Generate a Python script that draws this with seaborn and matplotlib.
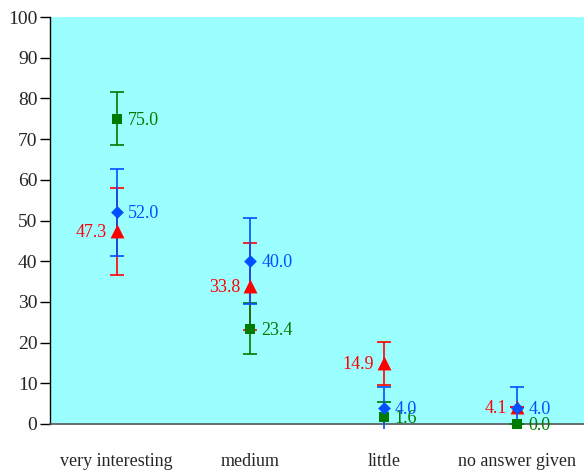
import matplotlib
matplotlib.use("Agg")
import matplotlib.pyplot as plt
import seaborn as sns
import pandas as pd
import numpy as np

categories = ["very interesting", "medium", "little", "no answer given"]

green_vals = [75.0, 23.4, 1.6, 0.0]
green_err = [6.5, 6.3, 3.9, 0.0]

blue_vals = [52.0, 40.0, 4.0, 4.0]
blue_err = [10.7, 10.6, 5.2, 5.2]

red_vals = [47.3, 33.8, 14.9, 4.1]
red_err = [10.8, 10.6, 5.2, 0.0]

y_ticks = [0, 10, 20, 30, 40, 50, 60, 70, 80, 90, 100]

GREEN = "#007a00"
BLUE = "#0050ff"
RED = "#ff0000"
BG = "#9cffff"

sns.set_theme(style="white")
plt.rcParams["font.family"] = ["Liberation Serif", "DejaVu Serif"]

fig = plt.figure(figsize=(5.84, 4.72), dpi=100)
ax = fig.add_axes([50 / 584, 48 / 472, 534 / 584, 407 / 472])
ax.set_facecolor(BG)

x = np.arange(len(categories))
series = [
    ("red", red_vals, red_err, RED, "^", 10, "left", True),
    ("green", green_vals, green_err, GREEN, "s", 7.5, "right", True),
    ("blue", blue_vals, blue_err, BLUE, "D", 6.5, "right", False),
]

for name, vals, errs, color, marker, msize, side, clip_whisker in series:
    df = pd.DataFrame({"cat": x, "val": vals})
    eb = ax.errorbar(x, vals, yerr=errs, fmt="none", ecolor=color, elinewidth=1.2,
                     capsize=5, capthick=1.2, zorder=3)
    # blue whiskers run a little past the baseline, caps stay inside the axes
    for col in eb[2]:
        col.set_clip_on(clip_whisker)
    for cap in eb[1]:
        cap.set_clip_on(True)
    sns.scatterplot(data=df, x="cat", y="val", ax=ax, color=color, marker=marker,
                    s=msize ** 2, edgecolor=color, linewidth=0, zorder=4,
                    clip_on=False, legend=False)
    for xi, v in zip(x, vals):
        if side == "right":
            ax.annotate(f"{v:.1f}", (xi, v), xytext=(8, -1), textcoords="offset points",
                        ha="left", va="center", color=color, fontsize=13, zorder=5)
        else:
            ax.annotate(f"{v:.1f}", (xi, v), xytext=(-7, -1), textcoords="offset points",
                        ha="right", va="center", color=color, fontsize=13, zorder=5)

ax.set_xlim(-0.5, len(categories) - 0.5)
ax.set_ylim(0, 100)
ax.set_yticks(y_ticks)
ax.set_yticklabels([str(t) for t in y_ticks], fontsize=14)
ax.set_xlabel("")
ax.set_ylabel("")

# category labels at group centres, ticks on the group boundaries
ax.set_xticks(x)
ax.set_xticklabels(categories, fontsize=13)
ax.tick_params(axis="x", which="major", length=0, pad=21)
ax.set_xticks(np.arange(-0.5, len(categories) - 0.5, 1.0), minor=True)
ax.tick_params(axis="x", which="minor", length=10, width=1, color="black", direction="out")
ax.tick_params(axis="y", length=7, width=1, color="black", direction="out", pad=2,
               left=True)

for s in ["top", "right"]:
    ax.spines[s].set_visible(False)
ax.spines["left"].set_color("black")
ax.spines["left"].set_linewidth(1)
ax.spines["bottom"].set_color("#555555")
ax.spines["bottom"].set_linewidth(1.2)

fig.savefig("out.png", dpi=100, facecolor="white")
